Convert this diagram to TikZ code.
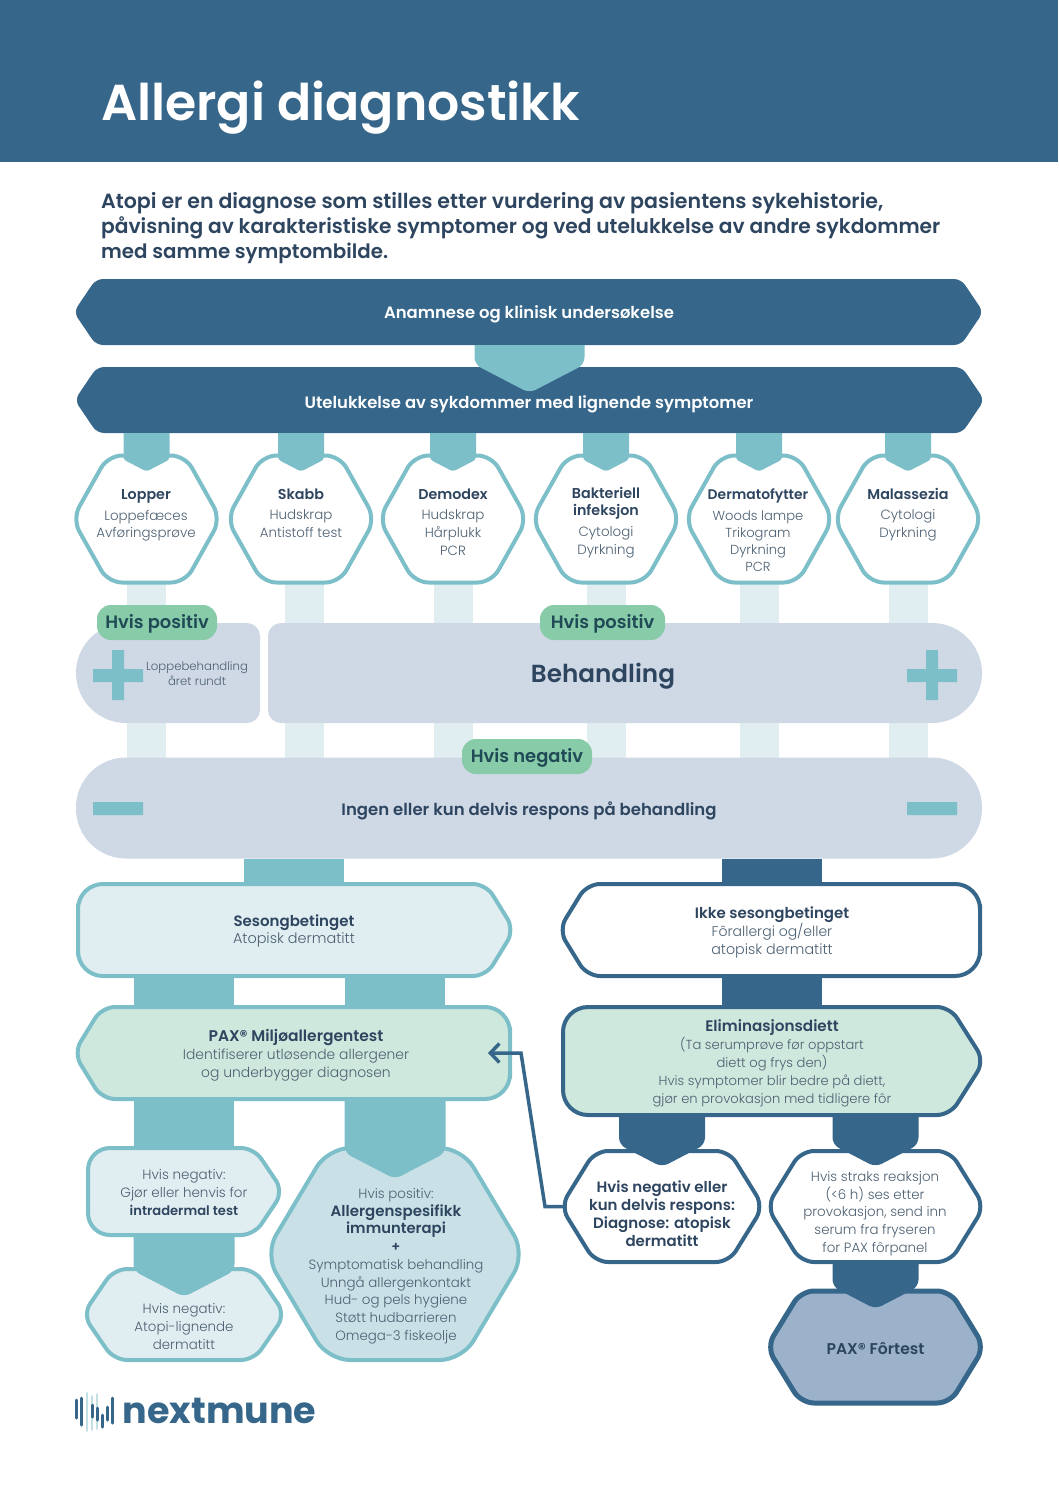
\documentclass[tikz,border=0pt]{standalone}
\usepackage{fontspec}
\setmainfont{Poppins}[UprightFont=* Light,BoldFont=* SemiBold]
\newfontfamily\heavy{Poppins}[UprightFont=* SemiBold,BoldFont=* Bold]
\usetikzlibrary{calc,arrows.meta}
\definecolor{navy}{HTML}{36668A}
\definecolor{teal}{HTML}{7DBFC9}
\definecolor{palebar}{HTML}{E1EEF1}
\definecolor{slate}{HTML}{CFD9E5}
\definecolor{mint}{HTML}{CFE8DD}
\definecolor{pill}{HTML}{88CBA9}
\definecolor{pillink}{HTML}{1F4A56}
\definecolor{icefill}{HTML}{C9E1E6}
\definecolor{steel}{HTML}{9CB2CB}
\definecolor{ink}{HTML}{2E4560}
\definecolor{soft}{HTML}{4C6072}
\tikzset{
  frame/.style={minimum width=#1,inner sep=0pt,outer sep=0pt},
  tealline/.style={draw=teal,line width=4pt,line join=round},
  navyline/.style={draw=navy,line width=4pt,line join=round},
  struts/.style={execute at begin node=\strut,execute at end node=\strut},
  lowered/.style={struts,yshift=-2pt},
  body/.style={lowered,align=center,inner sep=0pt,text=soft,font=\fontsize{13.4}{17.8}\selectfont},
  head/.style={lowered,align=center,inner sep=0pt,text=ink,font=\fontsize{14.3}{17.4}\selectfont\bfseries},
  white title/.style={lowered,inner sep=0pt,text=white,font=\fontsize{16.45}{20}\selectfont\bfseries},
  pilltext/.style={struts,fill=pill,text=pillink,rounded corners=14pt,inner sep=0pt,minimum height=35pt,font=\fontsize{17.9}{20}\selectfont\bfseries},
  bar/.style={line width=#1},
  logobar/.style={navy,line width=3pt,line cap=round},
  logopale/.style={palebar!70!teal,line width=1.6pt,line cap=round},
}
\newcommand{\hl}[2]{{\color{ink}\fontsize{#1}{17}\selectfont\bfseries #2}}
\newcommand{\tx}[2]{{\fontsize{#1}{17}\selectfont #2}}
% #1 name, #2 style, #3 left inset, #4 right inset, #5 left radius, #6 right radius
\newcommand{\outline}[6]{%
  \path[#2] let \p1=(#1.north west),\p2=(#1.south east),\n1={(\y1+\y2)/2},\n2={(\x1+\x2)/2},
      \n3={#3>0pt ? 0.33*#5 : 0pt},\n4={#4>0pt ? 0.33*#6 : 0pt} in
    [rounded corners=#6] (\n2,\y1) -- ({\x2-#4},\y1) -- ({\x2+\n4},\n1) -- ({\x2-#4},\y2) -- (\n2,\y2)
    [rounded corners=#5] -- ({\x1+#3},\y2) -- ({\x1-\n3},\n1) -- ({\x1+#3},\y1) -- cycle;}
% flat panel: #1 name, #2 style, #3 left radius, #4 right radius
\newcommand{\panel}[4]{%
  \path[#2] let \p1=(#1.north west),\p2=(#1.south east),\n2={(\x1+\x2)/2} in
    [rounded corners=#4] (\n2,\y1) -- (\x2,\y1) -- (\x2,\y2) -- (\n2,\y2)
    [rounded corners=#3] -- (\x1,\y2) -- (\x1,\y1) -- cycle;}
% #1 colour, #2 source, #3 target, #4 half width, #5 depth of the tip into the target, #6 radius
\newcommand{\chevron}[6]{%
  \fill[#1] let \p1=(#3.north),\p2=(#2.south) in
    (\x1-#4,\y2) [rounded corners=#6] -- (\x1-#4,{\y1-#5+0.52*#4}) -- (\x1,\y1-#5)
    -- (\x1+#4,{\y1-#5+0.52*#4}) [sharp corners] -- (\x1+#4,\y2) -- cycle;}
\begin{document}
\begin{tikzpicture}[x=1pt,y=-1pt]
\useasboundingbox (0,0) rectangle (1058,1497);
\fill[navy] (0,0) rectangle (1058,162);
\node[anchor=base west,inner sep=0pt,text=white,font=\fontsize{50.5}{54}\selectfont\heavy] (title) at (101,120) {Allergi diagnostikk};
\node[anchor=north west,align=left,inner sep=0pt,text=ink,font=\fontsize{20.2}{24.6}\selectfont\bfseries] (intro) at (101,192.5)
 {\tx{20.55}{Atopi er en diagnose som stilles etter vurdering av pasientens sykehistorie,}\\påvisning av karakteristiske symptomer og ved utelukkelse av andre sykdommer\\\tx{19.8}{med samme symptombilde.}};

% frames
\node[frame=905pt,minimum height=66pt] (anam) at (528.5,312) {};
\node[frame=905pt,minimum height=66pt] (utel) at (529.5,400) {};
\foreach \nm/\cx in {lopper/146.5,skabb/301,demodex/453,bakt/606,derm/759,mal/908}
  \node[frame=139pt,minimum height=127pt] (\nm) at (\cx,519) {};
\node[frame=184pt,minimum height=100pt] (tleft) at (168,673) {};
\node[frame=714pt,minimum height=100pt] (tright) at (625,673) {};
\node[frame=906pt,minimum height=101pt] (neg) at (529,808) {};
\node[frame=432pt,minimum height=92pt] (ses) at (294,930) {};
\node[frame=417pt,minimum height=92pt] (ikke) at (771.5,930) {};
\node[frame=432pt,minimum height=92pt] (pax) at (294,1053) {};
\node[frame=417pt,minimum height=108pt] (elim) at (771.5,1061) {};
\node[frame=191pt,minimum height=87pt] (hneg) at (183.5,1191.5) {};
\node[frame=194pt,minimum height=91pt] (atopi) at (184,1314.5) {};
\node[frame=246pt,minimum height=212pt] (big) at (395,1254) {};
\node[frame=194pt,minimum height=111pt] (diag) at (662,1206.5) {};
\node[frame=209pt,minimum height=111pt] (straks) at (875.5,1206.5) {};
\node[frame=209pt,minimum height=112pt] (fortest) at (875.5,1347) {};

% pale bars behind the treatment panels
\foreach \nm/\d in {lopper/0,skabb/3.5,demodex/0,bakt/0,derm/0,mal/0}
  \draw[bar=39pt,palebar] ([xshift=\d pt]\nm.south) -- ([xshift=\d pt]\nm.south |- neg.north);
% wide bars
\draw[bar=100pt,teal] (ses.north |- neg.south) -- (ses.north);
\draw[bar=100pt,navy] (ikke.north |- neg.south) -- (ikke.north);
\draw[bar=100pt,teal] (hneg.north |- ses.south) -- (hneg.north |- pax.north);
\draw[bar=100pt,teal] (big.north |- ses.south) -- (big.north |- pax.north);
\draw[bar=100pt,navy] (ikke.south) -- (elim.north);
\draw[bar=100pt,teal] (hneg.north |- pax.south) -- (hneg.north);

% outlines
\outline{anam}{fill=navy}{20pt}{20pt}{7pt}{7pt}
\outline{lopper}{tealline,fill=white}{31pt}{31pt}{14pt}{14pt}
\outline{skabb}{tealline,fill=white}{31pt}{31pt}{14pt}{14pt}
\outline{demodex}{tealline,fill=white}{31pt}{31pt}{14pt}{14pt}
\outline{bakt}{tealline,fill=white}{31pt}{31pt}{14pt}{14pt}
\outline{derm}{tealline,fill=white}{31pt}{31pt}{14pt}{14pt}
\outline{mal}{tealline,fill=white}{31pt}{31pt}{14pt}{14pt}
\outline{utel}{fill=navy}{20pt}{20pt}{7pt}{7pt}
\panel{tleft}{fill=slate}{50pt}{13pt}
\panel{tright}{fill=slate}{13pt}{50pt}
\panel{neg}{fill=slate}{50pt}{50pt}
\outline{ses}{tealline,fill=palebar}{0pt}{24pt}{25pt}{13pt}
\outline{ikke}{navyline,fill=white}{24pt}{0pt}{13pt}{25pt}
\outline{pax}{tealline,fill=mint}{24pt}{0pt}{13pt}{25pt}
\outline{elim}{navyline,fill=mint}{0pt}{30pt}{25pt}{13pt}
\outline{hneg}{tealline,fill=palebar}{0pt}{25pt}{22pt}{13pt}
\outline{atopi}{tealline,fill=palebar}{27pt}{27pt}{13pt}{13pt}
\outline{big}{tealline,fill=icefill}{56pt}{56pt}{22pt}{22pt}
\outline{diag}{navyline,fill=white}{30pt}{30pt}{13pt}{13pt}
\outline{straks}{navyline,fill=white}{30pt}{30pt}{13pt}{13pt}
\outline{fortest}{navyline,fill=steel,line width=5pt}{30pt}{30pt}{13pt}{13pt}

% chevrons
\chevron{teal}{anam}{utel}{55pt}{26pt}{7pt}
\foreach \nm in {lopper,skabb,demodex,bakt,derm,mal}{\chevron{teal}{utel}{\nm}{23pt}{16pt}{3pt}}
\chevron{teal}{pax}{big}{50.5pt}{31pt}{7pt}
\chevron{teal}{hneg}{atopi}{50.5pt}{28pt}{7pt}
\chevron{navy}{elim}{diag}{43pt}{16pt}{7pt}
\chevron{navy}{elim}{straks}{43pt}{16pt}{7pt}
\chevron{navy}{straks}{fortest}{43pt}{18pt}{7pt}

% plus and minus signs
\fill[teal] (93,669) rectangle (143,682) (112,650) rectangle (124,700);
\fill[teal] (907,669) rectangle (957,682) (926,650) rectangle (938,700);
\fill[teal] (93,802) rectangle (143,815) (907,802) rectangle (957,815);

% texts
\node[white title] (anamT) at (529,312) {Anamnese og klinisk undersøkelse};
\node[white title] (utelT) at (529,402) {Utelukkelse av sykdommer med lignende symptomer};

\node[head] (l1) at (146,494) {Lopper};
\node[body] (l2) at (146,524.5) {Loppefæces\\Avføringsprøve};
\node[head] (s1) at (301,494) {Skabb};
\node[body] (s2) at (301,524.5) {Hudskrap\\Antistoff test};
\node[head] (d1) at (453,494) {Demodex};
\node[body] (d2) at (453,533) {Hudskrap\\Hårplukk\\PCR};
\node[head] (b1) at (606,502) {Bakteriell\\infeksjon};
\node[body] (b2) at (606,541.5) {Cytologi\\Dyrkning};
\node[head,font=\fontsize{13.9}{17.4}\selectfont\bfseries] (de1) at (758,494) {Dermatofytter};
\node[body,font=\fontsize{13.1}{17.1}\selectfont] (de2) at (758,541.5) {Woods lampe\\Trikogram\\Dyrkning\\PCR};
\node[head] (m1) at (908,494) {Malassezia};
\node[body] (m2) at (908,524.5) {Cytologi\\Dyrkning};

\node[pilltext,minimum width=120pt] (p1) at (157,622.5) {\raisebox{-2pt}{Hvis positiv}};
\node[pilltext,minimum width=125pt] (p2) at (602.5,622.5) {\raisebox{-2pt}{Hvis positiv}};
\node[pilltext,minimum width=130pt] (p3) at (527,756.5) {\raisebox{-2pt}{Hvis negativ}};
\node[body,font=\fontsize{11.7}{15.8}\selectfont] (lb) at (197,674) {Loppebehandling\\året rundt};
\node[lowered,inner sep=0pt,text=ink,font=\fontsize{24.7}{28}\selectfont\bfseries] (beh) at (603,675) {Behandling};
\node[lowered,inner sep=0pt,text=ink,font=\fontsize{16.5}{20}\selectfont\bfseries] (ingen) at (529,809) {Ingen eller kun delvis respons på behandling};

\node[body,font=\fontsize{14}{17.4}\selectfont] (sesT) at (294,929.5) {\hl{15}{Sesongbetinget}\\\tx{14.4}{Atopisk dermatitt}};
\node[body,font=\fontsize{14}{18}\selectfont] (ikkeT) at (772,931) {\hl{15}{Ikke sesongbetinget}\\Fôrallergi og/eller\\\tx{14.3}{atopisk dermatitt}};
\node[body,font=\fontsize{13.9}{18}\selectfont] (paxT) at (296,1054) {\hl{15.5}{PAX® Miljøallergentest}\\Identifiserer utløsende allergener\\og underbygger diagnosen};
\node[body,font=\fontsize{13.1}{18}\selectfont] (elimT) at (772,1062) {\hl{15.2}{Eliminasjonsdiett}\\(Ta serumprøve før oppstart\\diett og frys den)\\Hvis symptomer blir bedre på diett,\\gjør en provokasjon med tidligere fôr};
\node[body,font=\fontsize{13.5}{18}\selectfont] (hnegT) at (184,1193) {Hvis negativ:\\Gjør eller henvis for\\\hl{13.1}{intradermal test}};
\node[body] (atopiT) at (184,1327) {Hvis negativ:\\Atopi-lignende\\dermatitt};
\node[body,font=\fontsize{13.4}{17.75}\selectfont] (bigT) at (396,1265) {Hvis positiv:\\\hl{15}{Allergenspesifikk}\\\hl{14.8}{immunterapi}\\\hl{13.4}{+}\\Symptomatisk behandling\\Unngå allergenkontakt\\Hud- og pels hygiene\\Støtt hudbarrieren\\Omega-3 fiskeolje};
\node[head,font=\fontsize{15}{18}\selectfont\bfseries] (diagT) at (662,1214) {Hvis negativ eller\\kun delvis respons:\\Diagnose: atopisk\\dermatitt};
\node[body] (straksT) at (875,1212.5) {Hvis straks reaksjon\\(<6 h) ses etter\\provokasjon, send inn\\serum fra fryseren\\for PAX fôrpanel};
\node[head,font=\fontsize{15.6}{18}\selectfont\bfseries] (fortestT) at (875.5,1348.5) {PAX® Fôrtest};

% arrow from the diagnosis back to the environmental test
\coordinate (bendA) at ($(diag.west)+(-20,0)$);
\coordinate (bendB) at ($(pax.east)+(11,0)$);
\coordinate (arrowEnd) at ($(pax.east)+(-22,0)$);
\draw[navy,line width=3.5pt,line join=miter,-{Straight Barb[length=9pt,width=19pt,line width=3.5pt]}] (diag.west) -- (bendA) -- (bendB) -- (arrowEnd);

% logo
\foreach \x/\a/\b in {87/1393/1431,92/1396/1430,97/1394/1429}
  \draw[logopale] (\x,\a) -- (\x,\b);
\foreach \x/\a/\b in {76.5/1400/1418,81.5/1398/1425,92/1405/1417,97/1408/1420,102/1415/1427,107/1407/1420,112/1398/1423}
  \draw[logobar] (\x,\a) -- (\x,\b);
\node[anchor=base west,inner sep=0pt,text=navy,font=\fontsize{36.5}{40}\selectfont\heavy\bfseries] (logoT) at (122.5,1423) {nextmune};
\end{tikzpicture}
\end{document}
